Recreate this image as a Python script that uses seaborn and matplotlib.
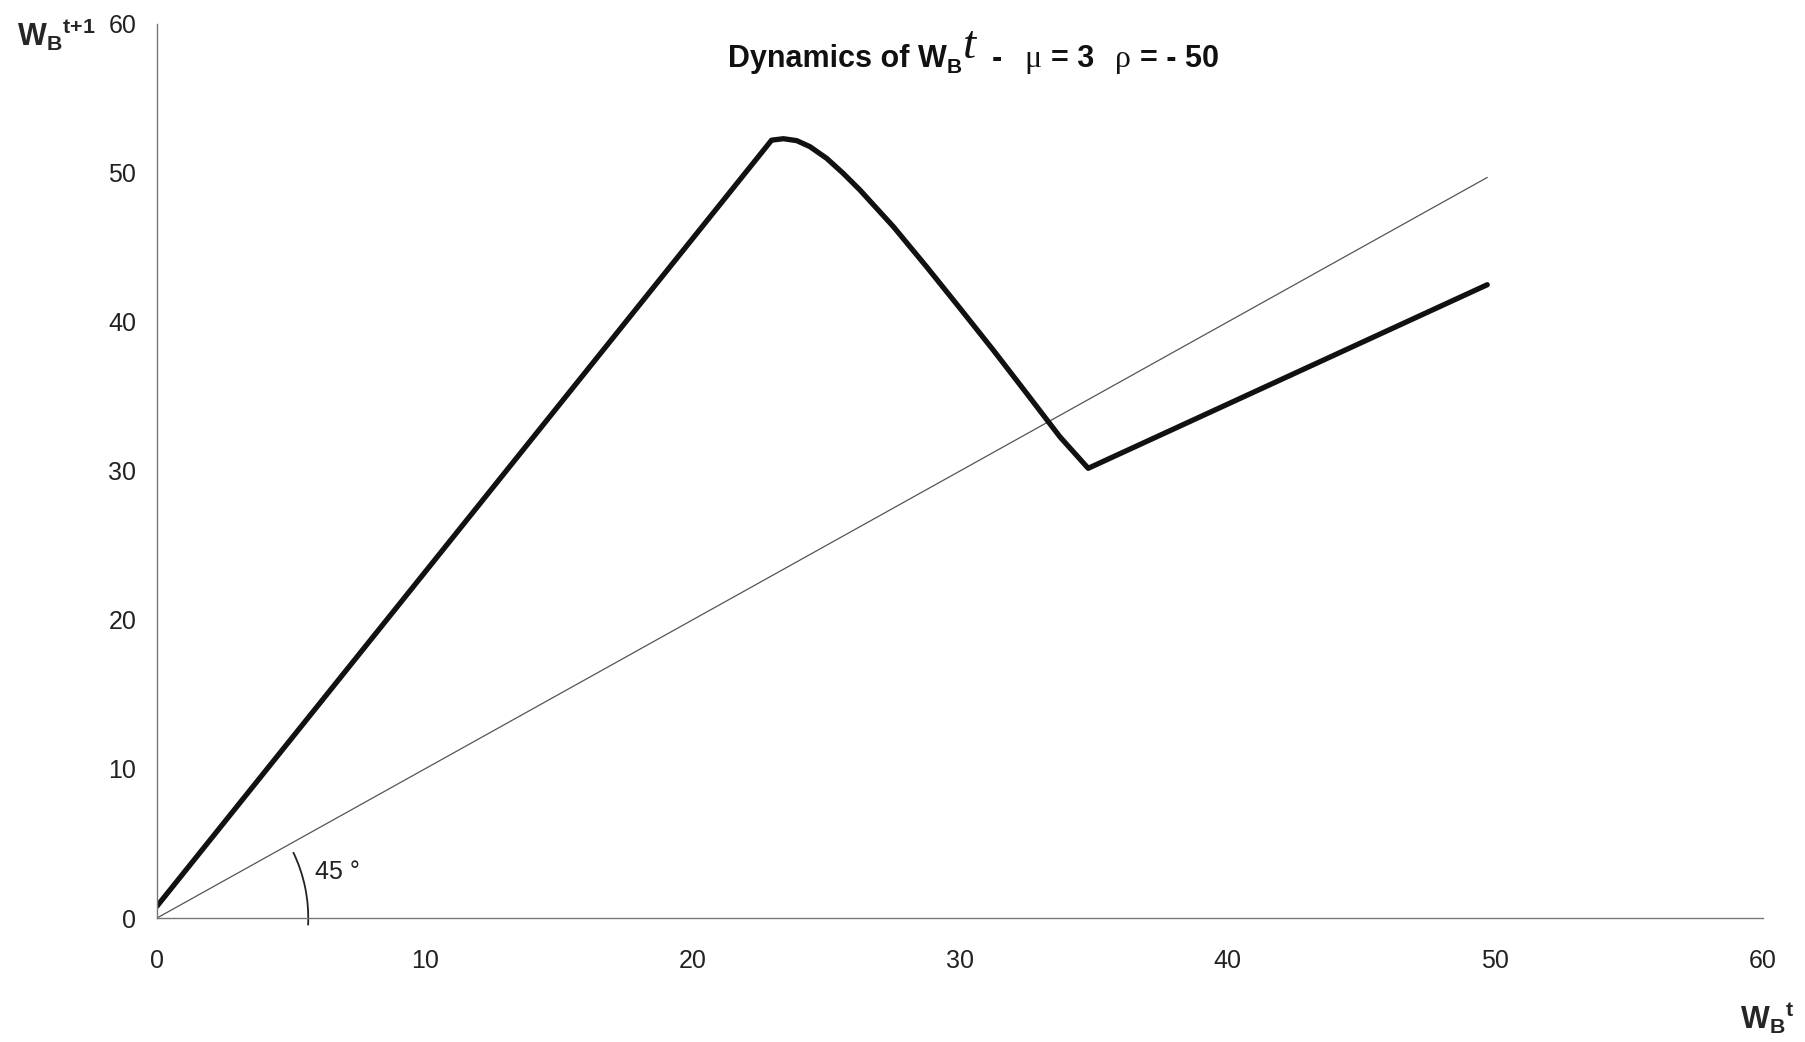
import numpy as np
import pandas as pd
import matplotlib
matplotlib.use("Agg")
import matplotlib.pyplot as plt
from matplotlib.patches import Arc
from matplotlib.transforms import IdentityTransform
import seaborn as sns

# map W_B(t) -> W_B(t+1)
wb_t = [0.0, 22.96, 23.4, 23.9, 24.39, 25.02, 25.64, 26.26, 27.51, 28.75,
        30.0, 31.24, 32.49, 33.73, 34.79, 49.7]
wb_next = [0.8, 52.2, 52.3, 52.17, 51.77, 50.98, 49.97, 48.86, 46.4, 43.71,
           40.92, 38.12, 35.21, 32.3, 30.18, 42.5]
# 45 degree line
diag_x = [0.0, 49.7]
diag_y = [0.0, 49.7]
ticks = [0, 10, 20, 30, 40, 50, 60]

sns.set_style("white")
plt.rcParams['font.family'] = ['Liberation Sans', 'DejaVu Sans']
plt.rcParams['mathtext.fontset'] = 'custom'
plt.rcParams['mathtext.rm'] = 'Liberation Sans'
plt.rcParams['mathtext.bf'] = 'Liberation Sans:bold'
plt.rcParams['mathtext.it'] = 'Liberation Sans:italic'

fig = plt.figure(figsize=(18.05, 10.42), dpi=100)
ax = fig.add_axes([0.087, 0.119, 0.8897, 0.858])

curve = pd.DataFrame({'x': wb_t, 'y': wb_next})
diag = pd.DataFrame({'x': diag_x, 'y': diag_y})
sns.lineplot(data=diag, x='x', y='y', ax=ax, color='#555555', linewidth=0.9, sort=False)
sns.lineplot(data=curve, x='x', y='y', ax=ax, color='#111111', linewidth=3.8, sort=False)

ax.set_xlim(0, 60)
ax.set_ylim(0, 60)
ax.set_xticks(ticks)
ax.set_yticks(ticks)
ax.tick_params(axis='both', labelsize=18, length=6, width=1, color='#777777',
               labelcolor='#222222')
ax.tick_params(axis='x', pad=16)
ax.tick_params(axis='y', pad=9)
for s in ['top', 'right']:
    ax.spines[s].set_visible(False)
for s in ['left', 'bottom']:
    ax.spines[s].set_color('#777777')
    ax.spines[s].set_linewidth(1)
ax.grid(False)

ax.set_xlabel(r'$\mathbf{W}_{\mathbf{B}}{}^{\mathbf{t}}$', fontsize=22)
ax.set_ylabel(r'$\mathbf{W}_{\mathbf{B}}{}^{\mathbf{t{+}1}}$', fontsize=22, rotation=0)
ax.xaxis.set_label_coords(1.003, -0.112)
ax.yaxis.set_label_coords(-0.063, 0.988)
ax.xaxis.label.set_va('center')
ax.yaxis.label.set_va('center')

# title built from pieces laid out one after the other:
# (text, style, raise in px, gap before in px)
fig.canvas.draw()
renderer = fig.canvas.get_renderer()
bold = dict(fontsize=22, fontweight='bold', color='#111111')
serif = dict(fontsize=23, family='Liberation Serif', color='#111111')
pieces = [
    ('Dynamics of W', bold, 0, 0),
    ('B', dict(fontsize=15, fontweight='bold', color='#111111'), -6, 0),
    ('t', dict(fontsize=34, family='Liberation Serif', fontstyle='italic',
               color='#111111'), 9, 1),
    ('-', bold, 0, 16),
    ('μ', serif, 0, 22),
    ('= 3', bold, 0, 10),
    ('ρ', serif, 0, 20),
    ('= - 50', bold, 0, 10),
]
px, py = ax.transAxes.transform((0.3555, 0.9519))
for s, kw, dy, gap in pieces:
    t = ax.text(px + gap, py + dy, s, transform=IdentityTransform(), ha='left',
                va='baseline', **kw)
    px = t.get_window_extent(renderer).x1

# angle marker
ax.add_patch(Arc((0, 0), 11.3, 20.3, theta1=-5, theta2=41, color='#222222',
                 linewidth=1.3, clip_on=False))
ax.text(5.9, 3.1, '45 °', fontsize=18, color='#222222', ha='left', va='center')

plt.savefig('out.png', dpi=100)
